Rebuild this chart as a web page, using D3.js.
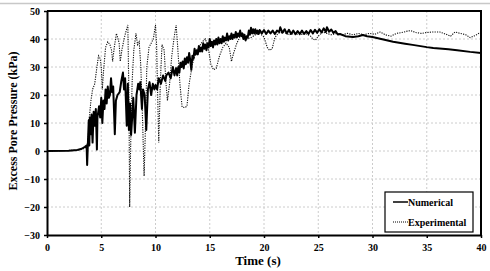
<!DOCTYPE html>
<html>
<head>
<meta charset="utf-8">
<script src="https://d3js.org/d3.v7.min.js"></script>
<style>
  body { margin: 0; background: #fff; }
  svg { display: block; font-family: "Liberation Serif", "Times New Roman", serif; font-weight: bold; }
</style>
</head>
<body>
<div id="chart"></div>
<script>
// Numerical trace (time in s, excess pore pressure in kPa)
const numTime = [0, 2.0, 2.8, 3.2, 3.5, 3.65, 3.7, 3.78, 3.85, 3.9, 3.95, 4.05, 4.1, 4.2, 4.3, 4.4, 4.5, 4.6, 4.65, 4.8,
  4.9, 5.0, 5.1, 5.2, 5.3, 5.4, 5.5, 5.6, 5.7, 5.8, 5.9, 6.0, 6.1, 6.25, 6.35, 6.5, 6.7, 6.85, 7.0, 7.1,
  7.2, 7.35, 7.45, 7.55, 7.65, 7.75, 7.85, 7.95, 8.1, 8.25, 8.4, 8.5, 8.6, 8.75, 8.85, 9.0, 9.15, 9.3, 9.45, 9.6,
  9.75, 9.9, 10.0, 10.15, 10.3, 10.5, 10.7, 10.9, 11.0, 11.2, 11.4, 11.6, 11.75, 11.9,
  12.0, 12.1, 12.2, 12.3, 12.4, 12.5, 12.6, 12.7, 12.8, 12.9, 13.0, 13.1, 13.2, 13.3, 13.4, 13.5, 13.6, 13.7, 13.8, 13.9,
  14.0, 14.1, 14.2, 14.3, 14.4, 14.5, 14.6, 14.7, 14.8, 14.9, 15.0, 15.1, 15.2, 15.3, 15.4, 15.5, 15.6, 15.7, 15.8, 15.9,
  16.0, 16.1, 16.2, 16.3, 16.4, 16.5, 16.6, 16.7, 16.8, 16.9, 17.0, 17.1, 17.2, 17.3, 17.4, 17.5, 17.6, 17.7, 17.8, 17.9,
  18.0, 18.1, 18.2, 18.3, 18.4, 18.5, 18.6, 18.7, 18.8, 18.9, 19.0, 19.1, 19.2, 19.3, 19.4, 19.5, 19.6, 19.8, 20.0, 20.2,
  20.4, 20.6, 20.8, 21.0, 21.2, 21.4, 21.5, 21.7, 21.9, 22.1, 22.3, 22.5, 22.7, 22.9, 23.1, 23.3, 23.5, 23.7, 23.9, 24.1,
  24.3, 24.5, 24.7, 24.9, 25.1, 25.3, 25.5, 25.7, 25.8, 26.0, 26.2, 26.4, 26.6, 26.8, 27.0,
  27.5, 28.2, 28.7, 29.1, 29.5, 30.0, 31.0, 31.9, 33.0, 33.7, 35.0, 35.6, 37.0, 37.8, 39.0, 40.0];
const numPressure = [0, 0.1, 0.4, 0.8, 1.5, 2, -5, 4, 11, 2, 12, 6, 13, 3, 14, 9, 15, 0.5, 12, 16,
  12, 19, 10, 18, 15, 22, 17, 23, 19, 20, 26, 21, 23, 6, 18, 20, 21, 25, 28, 22,
  26, 9, 24, 7.5, 17, 5.7, 12, 19, 6.5, 20, 24, 22, 24.6, 15, 22, 20, 7.5, 22, 24.6, 20,
  24, 22, 23.6, 22, 26, 24, 27, 25, 27, 28, 26, 30, 27, 29.6,
  27, 30, 28, 31.5, 30, 32, 29.5, 33, 31, 33.5, 31.5, 35, 32.5, 29, 34, 33, 36.5, 34.5, 36, 34.5,
  37.5, 35.5, 37, 35.5, 38.5, 36.5, 38, 36, 38.5, 37, 40, 37.5, 39, 37, 39.5, 38, 40, 38, 40.5, 38.5,
  40, 38.5, 41, 39, 40.5, 39.5, 42, 39.5, 41, 40, 42, 40, 41.5, 40.5, 42.5, 40.5, 42, 41, 43, 41,
  42, 40, 41.5, 39.5, 41, 40.5, 43, 41.5, 44, 42, 43.5, 42, 43.5, 42, 43, 41.8, 43.2, 42, 43.2, 41.8,
  43, 42, 43, 41.8, 43, 42.5, 44.2, 42.2, 43.5, 42, 43.3, 41.8, 43, 41.7, 42.8, 41.8, 43, 41.8, 42.8, 41.8,
  43.2, 42, 43.3, 42.2, 43.5, 42.3, 43.8, 42.5, 44.2, 42.6, 43.4, 42.2, 42.8, 41.6, 41.8,
  41, 40.7, 41, 41.4, 41, 40.7, 39.8, 39, 38.3, 37.9, 37.1, 36.8, 36.3, 36, 35.4, 35];

// Experimental trace
const expTime = [0, 3.0, 3.5, 3.7, 3.8, 3.9, 4.05, 4.2, 4.4, 4.6, 4.75, 4.9, 5.0, 5.1, 5.2, 5.4, 5.6, 5.8, 5.95, 6.05,
  6.2, 6.4, 6.55, 6.65, 6.75, 6.9, 7.1, 7.3, 7.45, 7.55, 7.62, 7.7, 7.85, 8.0, 8.2, 8.35, 8.5, 8.65, 8.8, 8.95,
  9.05, 9.2, 9.4, 9.6, 9.8, 10.0, 10.1, 10.2, 10.3, 10.45, 10.6, 10.8, 10.95, 11.1, 11.3, 11.5, 11.7, 11.9, 12.05, 12.25,
  12.45, 12.7, 12.9, 13.1, 13.4, 13.7, 14.0, 14.3, 14.6, 14.9, 15.1, 15.35, 15.6, 15.9, 16.2, 16.5, 16.8, 17.0, 17.2, 17.5,
  17.8, 18.1, 18.4, 18.8, 19.2, 19.6, 20.0, 20.3, 20.5, 20.75, 21.0, 21.3, 21.8, 22.3, 22.8, 23.3, 23.8, 24.3, 24.5, 24.75,
  25.0, 25.4, 25.8, 26.2, 26.7, 27.2, 27.7, 28.2, 28.7, 29.2, 29.7, 30.2, 30.7, 31.2, 31.7, 32.2, 32.7, 33.2, 33.5, 34.0,
  34.5, 35.0, 35.5, 36.2, 36.7, 37.2, 37.6, 38.1, 38.6, 39.0, 39.5, 40.0];
const expPressure = [0, 0.3, 1, 2, 5, 12, 18, 22, 24, 30, 34, 33, 30, 22, 28, 37, 39, 38, 36, 32,
  37, 42, 40, 38.5, 32, 36, 40, 43, 45, 20, -20, 0, 25, 36, 42, 38, 39, 30, 12, -9,
  5, 30, 37, 38.5, 40, 45, 38, 20, 3, 25, 38, 36, 25, 18, 24, 34, 40, 45, 37, 24,
  15.7, 15.5, 16, 24, 31, 35, 37, 39, 40, 36, 31, 29, 29.5, 34, 37, 38.5, 37, 32, 35, 38.5,
  41, 42, 40, 40.5, 41.5, 42, 40.7, 37, 36, 36.5, 40.5, 42, 42.5, 41.5, 42, 41.5, 42, 41, 40, 39.6,
  41, 42.5, 42, 41.5, 42, 41.5, 42, 41.5, 42, 41.5, 42, 41.7, 42.5, 41.5, 41, 42, 42.3, 42.8, 43, 42.3,
  42, 42.3, 42.5, 42.5, 41.8, 41, 42.5, 42, 41.5, 40.5, 41.3, 42.5];

const xTicks = [0, 5, 10, 15, 20, 25, 30, 35, 40];
const yTicks = [-30, -20, -10, 0, 10, 20, 30, 40, 50];
const seriesNames = ["Numerical", "Experimental"];

// Chart dimensions
const W = 490, H = 271;
const margin = { top: 11, right: 9, bottom: 36, left: 47 };
const width = W - margin.left - margin.right;
const height = H - margin.top - margin.bottom;

const svg = d3.select("#chart").append("svg")
  .attr("width", W)
  .attr("height", H);

// thin page rule at the very top
svg.append("line")
  .attr("x1", 0).attr("x2", W)
  .attr("y1", 3.5).attr("y2", 3.5)
  .attr("stroke", "#c8c8c8")
  .attr("stroke-width", 1.5);

const g = svg.append("g")
  .attr("transform", `translate(${margin.left},${margin.top})`);

// Scales
const x = d3.scaleLinear().domain([0, 40]).range([0, width]);
const y = d3.scaleLinear().domain([-30, 50]).range([height, 0]);

// Grid
g.append("g").selectAll("line")
  .data(xTicks.slice(1, -1))
  .join("line")
  .attr("x1", d => x(d)).attr("x2", d => x(d))
  .attr("y1", 0).attr("y2", height)
  .attr("stroke", "#cccccc")
  .attr("stroke-dasharray", "2,2");

g.append("g").selectAll("line")
  .data(yTicks.slice(1, -1))
  .join("line")
  .attr("x1", 0).attr("x2", width)
  .attr("y1", d => y(d)).attr("y2", d => y(d))
  .attr("stroke", "#cccccc")
  .attr("stroke-dasharray", "2,2");

// Data
const numData = numTime.map((t, i) => [t, numPressure[i]]);
const expData = expTime.map((t, i) => [t, expPressure[i]]);

const line = d3.line()
  .x(d => x(d[0]))
  .y(d => y(d[1]));

g.append("path")
  .datum(expData)
  .attr("d", line)
  .attr("fill", "none")
  .attr("stroke", "#111")
  .attr("stroke-width", 1.1)
  .attr("stroke-dasharray", "1.2,1.2");

g.append("path")
  .datum(numData)
  .attr("d", line)
  .attr("fill", "none")
  .attr("stroke", "#000")
  .attr("stroke-width", 2)
  .attr("stroke-linejoin", "round");

// Axes
const xAxis = g.append("g")
  .attr("transform", `translate(0,${height})`)
  .call(d3.axisBottom(x).tickValues(xTicks).tickSize(3).tickSizeOuter(0));

const yAxis = g.append("g")
  .call(d3.axisLeft(y).tickValues(yTicks).tickSize(3).tickSizeOuter(0));

[xAxis, yAxis].forEach(a => {
  a.select(".domain").attr("stroke", "#000").attr("stroke-width", 2);
  a.selectAll(".tick line").attr("stroke", "#000").attr("stroke-width", 1.5);
  a.selectAll(".tick text")
    .attr("fill", "#000")
    .style("font-family", "Liberation Serif, serif")
    .style("font-weight", "bold")
    .style("font-size", "10px");
});
xAxis.selectAll(".tick text").attr("dy", "0.95em");
yAxis.selectAll(".tick text").attr("x", -7);

// Frame: top and right
g.append("path")
  .attr("d", `M0,0H${width}V${height}`)
  .attr("fill", "none")
  .attr("stroke", "#000")
  .attr("stroke-width", 2);

// Axis titles
svg.append("text")
  .attr("x", 258)
  .attr("y", 265)
  .attr("text-anchor", "middle")
  .style("font-size", "13px")
  .text("Time (s)");

svg.append("text")
  .attr("transform", "translate(17,121) rotate(-90)")
  .attr("text-anchor", "middle")
  .style("font-size", "12px")
  .text("Excess Pore Pressure (kPa)");

// Legend
const legend = svg.append("g").attr("transform", "translate(385,192)");
legend.append("rect")
  .attr("width", 88).attr("height", 40)
  .attr("fill", "#fff")
  .attr("stroke", "#000")
  .attr("stroke-width", 1.2);

legend.selectAll("line")
  .data(seriesNames)
  .join("line")
  .attr("x1", 8).attr("x2", 23)
  .attr("y1", (d, i) => 10 + i * 20).attr("y2", (d, i) => 10 + i * 20)
  .attr("stroke", "#000")
  .attr("stroke-width", (d, i) => i === 0 ? 1.5 : 1)
  .attr("stroke-dasharray", (d, i) => i === 0 ? null : "1,1");

legend.selectAll("text")
  .data(seriesNames)
  .join("text")
  .attr("x", 23)
  .attr("y", (d, i) => 10 + i * 20)
  .attr("dy", "0.35em")
  .style("font-size", "10px")
  .text(d => d);
</script>
</body>
</html>
